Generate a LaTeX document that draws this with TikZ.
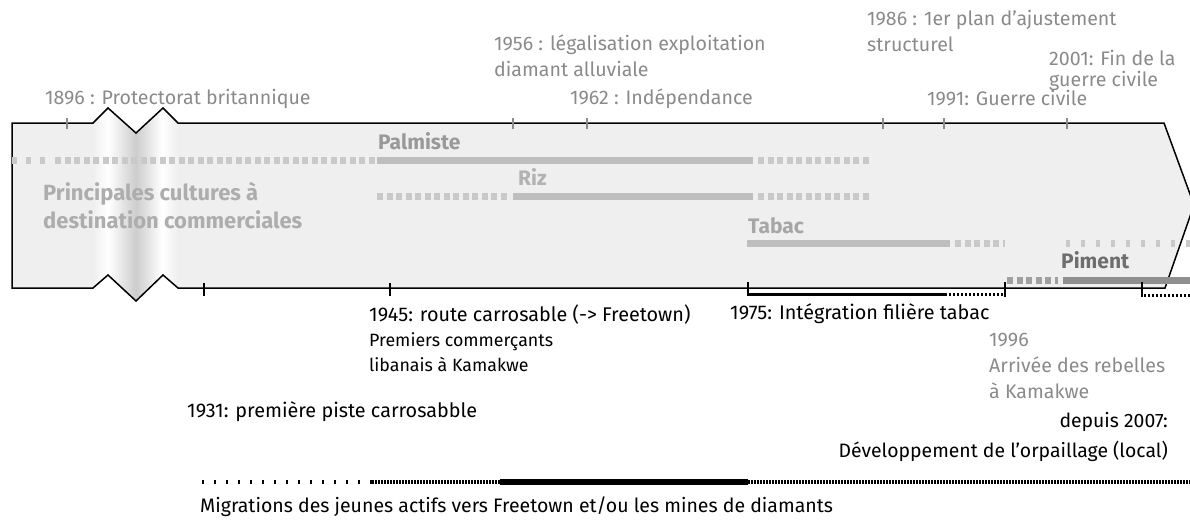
\documentclass[tikz,border=0pt]{standalone}
\usepackage{fontspec}
\setmainfont{Fira Sans}
\usetikzlibrary{positioning}

\definecolor{boxFill}{HTML}{EFEFEF}
\definecolor{bandGray}{HTML}{CDCDCD}
\definecolor{eventGray}{HTML}{8A8A8A}
\definecolor{tickGray}{HTML}{8C8C8C}
\definecolor{cropSolid}{HTML}{BEBEBE}
\definecolor{cropDotted}{HTML}{C9C9C9}
\definecolor{pimentSolid}{HTML}{8F8F8F}
\definecolor{pimentDotted}{HTML}{A0A0A0}

\newcommand{\timelineOutline}{(12,123) -- (93,123) -- (108,108) -- (136,133) -- (163,108) -- (178,123) -- (1164,123) -- (1194,205) -- (1165,288) -- (178,288) -- (163,275) -- (136,301) -- (108,275) -- (93,288) -- (12,288) -- cycle}

\begin{document}
\begin{tikzpicture}[x=1pt, y=-1pt,
        event/.style={
            anchor=base west, inner sep=0, text=eventGray, align=left, font=\fontsize{19.6}{25}\selectfont
        },
        fact/.style={
            anchor=base west, inner sep=0, text=black, align=left, font=\fontsize{19.8}{25}\selectfont
        },
        cropLabel/.style={
            anchor=base west, inner sep=0, font=\bfseries\fontsize{21}{22}\selectfont
        },
        cropLine/.style={line width=7pt, draw=cropSolid},
        cropDots/.style={line width=7pt, draw=cropDotted, dash pattern=on 6pt off 3.5pt},
        grayTick/.style={line width=2.5pt, draw=tickGray},
        blackTick/.style={line width=2.5pt, draw=black},
    ]
    \useasboundingbox (0,0) rectangle (1190,519);
    \clip (0,0) rectangle (1190,519);

    % frise
    \fill[boxFill] \timelineOutline;
    \begin{scope}
        \clip \timelineOutline;
        \shade[left color=boxFill, right color=white] (93,100) rectangle (108,310);
        \shade[left color=white, right color=bandGray] (108,100) rectangle (136,310);
        \shade[left color=bandGray, right color=white] (136,100) rectangle (162,310);
        \shade[left color=white, right color=boxFill] (162,100) rectangle (178,310);
    \end{scope}
    \draw[line width=1.5pt, line join=miter] \timelineOutline;

    % cultures
    \node (cultures) [cropLabel, text=black!32, align=left, font=\bfseries\fontsize{22}{28}\selectfont] at (43,228) {Principales cultures à\\destination commerciales};

    \draw[cropDots, dash pattern=on 5pt off 9pt] (12,160) -- (52,160);
    \draw[cropDots] (55,160) -- (375,160);
    \draw[cropLine] (377,160) -- (753,160);
    \draw[cropDots] (758,160) -- (870,160);
    \node (palmiste) [cropLabel, text=black!40] at (378,149) {Palmiste};

    \draw[cropDots] (377,196) -- (510,196);
    \draw[cropLine] (513,196) -- (753,196);
    \draw[cropDots] (758,196) -- (870,196);
    \node (riz) [cropLabel, text=black!30] at (518,185) {Riz};

    \draw[cropLine] (747,243) -- (950,243);
    \draw[cropDots] (955,243) -- (1005,243);
    \draw[cropDots, dash pattern=on 4pt off 11pt] (1066,243) -- (1190,243);
    \node (tabac) [cropLabel, text=black!35] at (748,233) {Tabac};

    \draw[cropDots, draw=pimentDotted] (1007,280) -- (1058,280);
    \draw[cropLine, draw=pimentSolid] (1063,280) -- (1190,280);
    \node (piment) [cropLabel, text=black!57] at (1061,268) {Piment};

    % evenements (haut)
    \foreach \x in {67,513,587,883,944,1067}
        \draw[grayTick] (\x,118) -- (\x,129);
    \node (t1896) [event] at (45,104) {1896 : Protectorat britannique};
    \node (t1956) [event] at (494,76) {1956 : légalisation exploitation\\diamant alluviale};
    \node (t1962) [event] at (570,104) {1962 : Indépendance};
    \node (t1986) [event, font=\fontsize{19.6}{26}\selectfont] at (867,52) {1986 : 1er plan d'ajustement\\structurel};
    \node (t2001) [event, font=\fontsize{19.6}{21}\selectfont] at (1049,86) {2001: Fin de la\\guerre civile};
    \node (t1991) [event] at (927,105) {1991: Guerre civile};

    % evenements (bas)
    \foreach \x in {204,390}
        \draw[blackTick] (\x,283) -- (\x,296);
    \draw[blackTick] (748,282) -- (748,296);
    \draw[line width=3pt] (748,294) -- (945,294);
    \draw[line width=3pt, dash pattern=on 2pt off 2pt] (945,294) -- (1003,294);
    \draw[blackTick] (1005,282) -- (1005,297);
    \draw[blackTick] (1142,282) -- (1142,297);
    \draw[line width=3pt, dash pattern=on 2pt off 2pt] (1144,295) -- (1190,295);

    \node (b1945) [fact] at (369,321) {1945: route carrosable (-> Freetown)};
    \node (b1945Note) [fact, font=\fontsize{17.8}{25}\selectfont] at (369,371) {Premiers commerçants\\libanais à Kamakwe};
    \node (b1931) [fact] at (187,417) {1931: première piste carrosabble};
    \node (b1975) [fact] at (730,319) {1975: Intégration filière tabac};
    \node (b1996) [event, font=\fontsize{19.6}{26}\selectfont] at (989,398) {1996\\Arrivée des rebelles\\à Kamakwe};
    \node (b2007) [fact, anchor=base east, align=right, font=\fontsize{19.4}{30}\selectfont] at (1168,457) {depuis 2007:\\Développement de l'orpaillage (local)};

    % migrations
    \draw[line width=4pt, dash pattern=on 2pt off 10pt] (202,482) -- (372,482);
    \draw[line width=4pt, dash pattern=on 1.5pt off 1.5pt] (372,482) -- (500,482);
    \draw[line width=6pt] (500,482) -- (748,482);
    \draw[line width=4pt, dash pattern=on 1.5pt off 1.5pt] (748,482) -- (1190,482);
    \node (migrations) [fact, font=\fontsize{19.5}{22}\selectfont] at (200,512) {Migrations des jeunes actifs vers Freetown et/ou les mines de diamants};

\end{tikzpicture}
\end{document}
